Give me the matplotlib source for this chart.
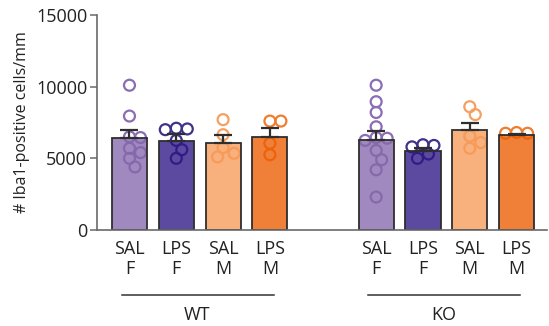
import numpy as np
import matplotlib
matplotlib.use("Agg")
import matplotlib.pyplot as plt
from matplotlib.transforms import blended_transform_factory
from matplotlib.colors import to_rgb

plt.rcParams['font.family'] = ['Open Sans', 'DejaVu Sans']

# ---- data ----
genotypes = ["WT", "KO"]
conditions = ["SAL\nF", "LPS\nF", "SAL\nM", "LPS\nM"]
means = [6420, 6230, 6050, 6510, 6280, 5510, 6950, 6650]
sems = [560, 470, 600, 580, 650, 190, 490, 60]

wt_sal_f = [10100, 7950, 6500, 6450, 5700, 5400, 5000, 4400]
wt_lps_f = [7100, 7000, 7050, 6250, 5600, 5000]
wt_sal_m = [7700, 6650, 5750, 5350, 5100]
wt_lps_m = [7600, 7600, 6050, 5250]
ko_sal_f = [10100, 8950, 8200, 7200, 6400, 6250, 6450, 5550, 4900, 4200, 2300]
ko_lps_f = [5950, 5800, 5900, 5300, 5000]
ko_sal_m = [8600, 8050, 6550, 6100, 5700]
ko_lps_m = [6750, 6800, 6750]
points = [wt_sal_f, wt_lps_f, wt_sal_m, wt_lps_m,
          ko_sal_f, ko_lps_f, ko_sal_m, ko_lps_m]

# ---- styles ----
bar_colors = ["#a189be", "#5b4a9f", "#f9b07c", "#f08033"] * 2
dot_colors = ["#8a6db4", "#40318a", "#f5a062", "#f07c2e"] * 2
bar_alpha = 0.78
gap = 2.27
width = 0.75

x = np.concatenate([np.arange(4), np.arange(4) + 3 + gap])

fig = plt.figure(figsize=(5.49, 3.26), dpi=100)
ax = fig.add_axes([97/549, 1 - 230/326, (547 - 97)/549, 215/326])
ax.set_xlim(-0.694, 8.92)
ax.set_ylim(0, 15000)


def faded(c, a):
    r, g, b = to_rgb(c)
    return (max(0, (r - (1 - a)) / a), max(0, (g - (1 - a)) / a),
            max(0, (b - (1 - a)) / a), a)


# points (behind the semi-transparent bars), simple swarm layout
fig.canvas.draw()
d_px = 11.0
for xi, vals, dc in zip(x, points, dot_colors):
    cx, _ = ax.transData.transform((xi, 0))
    order = np.argsort(vals)[::-1]
    placed = []
    for idx in order:
        v = vals[idx]
        _, py = ax.transData.transform((xi, v))
        cands = [0]
        for k in range(1, 8):
            cands += [k * d_px / 2.0, -k * d_px / 2.0]
        for off in cands:
            ok = all(np.hypot(off - po, py - pp) >= d_px * 0.85 for po, pp in placed)
            if ok:
                placed.append((off, py))
                break
    pts = ax.transData.inverted().transform([(cx + o, p) for o, p in placed])
    ax.scatter(pts[:, 0], pts[:, 1], s=62, facecolors='none', edgecolors=dc,
               linewidths=1.6, zorder=1, clip_on=False)

# bars
for xi, m, c in zip(x, means, bar_colors):
    ax.bar(xi, m, width=width, color=faded(c, bar_alpha), edgecolor="#2e2e2e",
           linewidth=1.3, zorder=2)

# error bars (upper only)
ax.errorbar(x, means, yerr=[np.zeros(len(sems)), sems], fmt='none',
            ecolor="#2e2e2e", elinewidth=1.6, capsize=6.5, capthick=1.6, zorder=3)

# axes style
for s in ["top", "right"]:
    ax.spines[s].set_visible(False)
for s in ["left", "bottom"]:
    ax.spines[s].set_color("#6a6a6a")
    ax.spines[s].set_linewidth(1.2)
ax.set_yticks([0, 5000, 10000, 15000])
ax.set_yticklabels(["0", "5000", "10000", "15000"])
ax.tick_params(axis='y', length=5, width=1.1, color="#6a6a6a", labelsize=13,
               labelcolor="#222222", pad=2)
ax.set_xticks(x)
ax.set_xticklabels(conditions * 2, fontsize=13, color="#222222", linespacing=1.15)
ax.tick_params(axis='x', length=0, pad=7)
ax.set_ylabel("# Iba1-positive cells/mm", fontsize=11.5, color="#222222", labelpad=4)

# group lines and labels
trans = blended_transform_factory(ax.transData, ax.transAxes)
for g, name in enumerate(genotypes):
    xs = x[g * 4:(g + 1) * 4]
    ax.plot([xs[0] - 0.17, xs[-1] + 0.08], [-0.302, -0.302], color="#333333",
            lw=1.1, transform=trans, clip_on=False)
    ax.text((xs[0] + xs[-1]) / 2 - 0.05, -0.395, name, transform=trans,
            ha='center', va='center', fontsize=13, color="#222222")

fig.savefig("out.png", dpi=100)
